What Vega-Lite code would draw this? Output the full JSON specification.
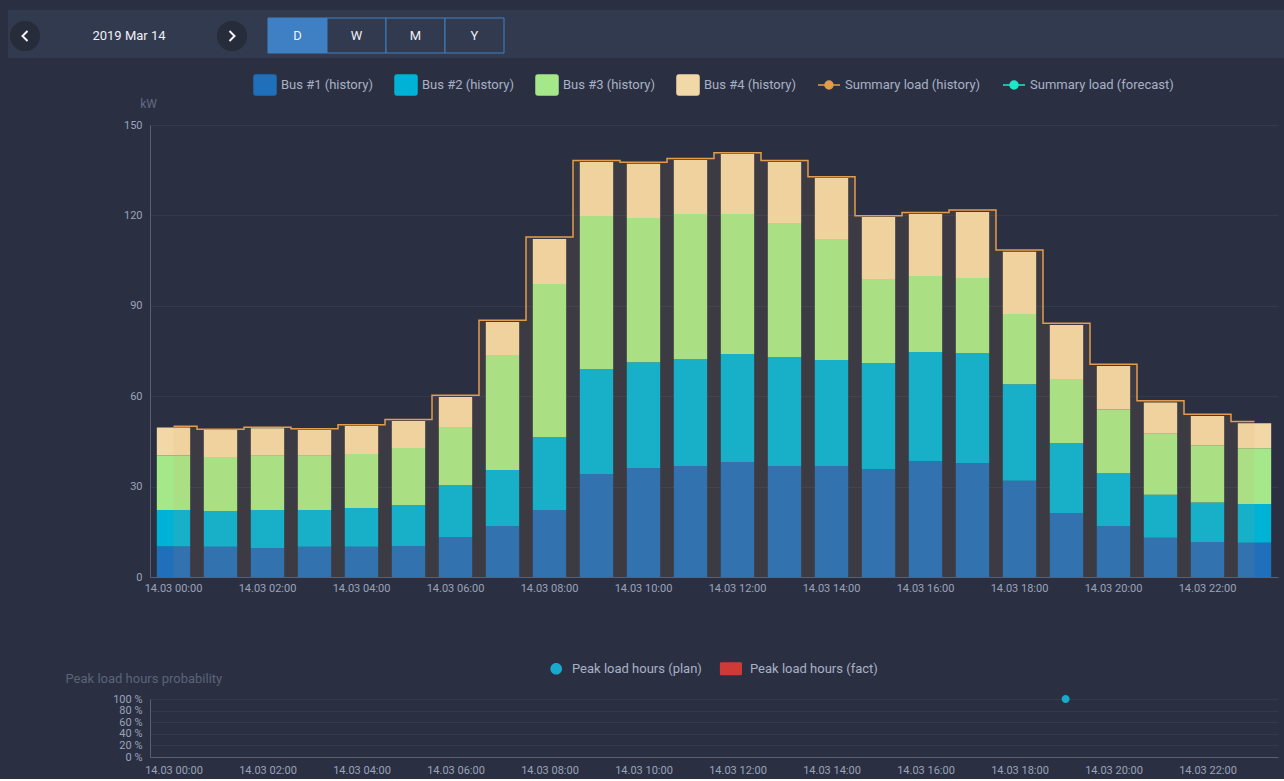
{
  "$schema": "https://vega.github.io/schema/vega-lite/v6.json",
  "padding": {"left": 8, "top": 10, "right": 0, "bottom": 4},
  "background": "#2a3042",
  "spacing": 16,
  "resolve": {"scale": {"color": "independent", "shape": "independent", "x": "independent", "y": "independent"}, "legend": {"color": "independent", "shape": "independent"}},
  "datasets": {
    "bus": [
      {"t":"14.03 00:00","series":"Bus #1 (history)","kw":10.1},{"t":"14.03 00:00","series":"Bus #2 (history)","kw":12.1},{"t":"14.03 00:00","series":"Bus #3 (history)","kw":18.1},{"t":"14.03 00:00","series":"Bus #4 (history)","kw":9.3},
      {"t":"14.03 01:00","series":"Bus #1 (history)","kw":10.0},{"t":"14.03 01:00","series":"Bus #2 (history)","kw":11.9},{"t":"14.03 01:00","series":"Bus #3 (history)","kw":17.9},{"t":"14.03 01:00","series":"Bus #4 (history)","kw":9.0},
      {"t":"14.03 02:00","series":"Bus #1 (history)","kw":9.6},{"t":"14.03 02:00","series":"Bus #2 (history)","kw":12.6},{"t":"14.03 02:00","series":"Bus #3 (history)","kw":18.0},{"t":"14.03 02:00","series":"Bus #4 (history)","kw":9.2},
      {"t":"14.03 03:00","series":"Bus #1 (history)","kw":10.0},{"t":"14.03 03:00","series":"Bus #2 (history)","kw":12.2},{"t":"14.03 03:00","series":"Bus #3 (history)","kw":18.0},{"t":"14.03 03:00","series":"Bus #4 (history)","kw":8.6},
      {"t":"14.03 04:00","series":"Bus #1 (history)","kw":10.0},{"t":"14.03 04:00","series":"Bus #2 (history)","kw":12.9},{"t":"14.03 04:00","series":"Bus #3 (history)","kw":17.9},{"t":"14.03 04:00","series":"Bus #4 (history)","kw":9.3},
      {"t":"14.03 05:00","series":"Bus #1 (history)","kw":10.3},{"t":"14.03 05:00","series":"Bus #2 (history)","kw":13.6},{"t":"14.03 05:00","series":"Bus #3 (history)","kw":18.9},{"t":"14.03 05:00","series":"Bus #4 (history)","kw":9.0},
      {"t":"14.03 06:00","series":"Bus #1 (history)","kw":13.3},{"t":"14.03 06:00","series":"Bus #2 (history)","kw":17.2},{"t":"14.03 06:00","series":"Bus #3 (history)","kw":19.3},{"t":"14.03 06:00","series":"Bus #4 (history)","kw":9.9},
      {"t":"14.03 07:00","series":"Bus #1 (history)","kw":16.9},{"t":"14.03 07:00","series":"Bus #2 (history)","kw":18.6},{"t":"14.03 07:00","series":"Bus #3 (history)","kw":38.2},{"t":"14.03 07:00","series":"Bus #4 (history)","kw":10.9},
      {"t":"14.03 08:00","series":"Bus #1 (history)","kw":22.2},{"t":"14.03 08:00","series":"Bus #2 (history)","kw":24.3},{"t":"14.03 08:00","series":"Bus #3 (history)","kw":50.7},{"t":"14.03 08:00","series":"Bus #4 (history)","kw":15.0},
      {"t":"14.03 09:00","series":"Bus #1 (history)","kw":34.2},{"t":"14.03 09:00","series":"Bus #2 (history)","kw":34.8},{"t":"14.03 09:00","series":"Bus #3 (history)","kw":50.8},{"t":"14.03 09:00","series":"Bus #4 (history)","kw":17.9},
      {"t":"14.03 10:00","series":"Bus #1 (history)","kw":36.2},{"t":"14.03 10:00","series":"Bus #2 (history)","kw":35.1},{"t":"14.03 10:00","series":"Bus #3 (history)","kw":47.8},{"t":"14.03 10:00","series":"Bus #4 (history)","kw":18.0},
      {"t":"14.03 11:00","series":"Bus #1 (history)","kw":36.8},{"t":"14.03 11:00","series":"Bus #2 (history)","kw":35.5},{"t":"14.03 11:00","series":"Bus #3 (history)","kw":48.2},{"t":"14.03 11:00","series":"Bus #4 (history)","kw":17.9},
      {"t":"14.03 12:00","series":"Bus #1 (history)","kw":38.2},{"t":"14.03 12:00","series":"Bus #2 (history)","kw":35.8},{"t":"14.03 12:00","series":"Bus #3 (history)","kw":46.5},{"t":"14.03 12:00","series":"Bus #4 (history)","kw":19.9},
      {"t":"14.03 13:00","series":"Bus #1 (history)","kw":36.8},{"t":"14.03 13:00","series":"Bus #2 (history)","kw":36.2},{"t":"14.03 13:00","series":"Bus #3 (history)","kw":44.5},{"t":"14.03 13:00","series":"Bus #4 (history)","kw":20.2},
      {"t":"14.03 14:00","series":"Bus #1 (history)","kw":36.8},{"t":"14.03 14:00","series":"Bus #2 (history)","kw":35.2},{"t":"14.03 14:00","series":"Bus #3 (history)","kw":40.2},{"t":"14.03 14:00","series":"Bus #4 (history)","kw":20.2},
      {"t":"14.03 15:00","series":"Bus #1 (history)","kw":35.8},{"t":"14.03 15:00","series":"Bus #2 (history)","kw":35.2},{"t":"14.03 15:00","series":"Bus #3 (history)","kw":27.9},{"t":"14.03 15:00","series":"Bus #4 (history)","kw":20.6},
      {"t":"14.03 16:00","series":"Bus #1 (history)","kw":38.5},{"t":"14.03 16:00","series":"Bus #2 (history)","kw":36.2},{"t":"14.03 16:00","series":"Bus #3 (history)","kw":25.2},{"t":"14.03 16:00","series":"Bus #4 (history)","kw":20.6},
      {"t":"14.03 17:00","series":"Bus #1 (history)","kw":37.8},{"t":"14.03 17:00","series":"Bus #2 (history)","kw":36.5},{"t":"14.03 17:00","series":"Bus #3 (history)","kw":24.9},{"t":"14.03 17:00","series":"Bus #4 (history)","kw":21.9},
      {"t":"14.03 18:00","series":"Bus #1 (history)","kw":31.9},{"t":"14.03 18:00","series":"Bus #2 (history)","kw":32.1},{"t":"14.03 18:00","series":"Bus #3 (history)","kw":23.3},{"t":"14.03 18:00","series":"Bus #4 (history)","kw":20.6},
      {"t":"14.03 19:00","series":"Bus #1 (history)","kw":21.2},{"t":"14.03 19:00","series":"Bus #2 (history)","kw":23.3},{"t":"14.03 19:00","series":"Bus #3 (history)","kw":21.2},{"t":"14.03 19:00","series":"Bus #4 (history)","kw":17.9},
      {"t":"14.03 20:00","series":"Bus #1 (history)","kw":16.9},{"t":"14.03 20:00","series":"Bus #2 (history)","kw":17.5},{"t":"14.03 20:00","series":"Bus #3 (history)","kw":21.2},{"t":"14.03 20:00","series":"Bus #4 (history)","kw":14.4},
      {"t":"14.03 21:00","series":"Bus #1 (history)","kw":13.0},{"t":"14.03 21:00","series":"Bus #2 (history)","kw":14.3},{"t":"14.03 21:00","series":"Bus #3 (history)","kw":20.2},{"t":"14.03 21:00","series":"Bus #4 (history)","kw":10.4},
      {"t":"14.03 22:00","series":"Bus #1 (history)","kw":11.6},{"t":"14.03 22:00","series":"Bus #2 (history)","kw":13.1},{"t":"14.03 22:00","series":"Bus #3 (history)","kw":19.0},{"t":"14.03 22:00","series":"Bus #4 (history)","kw":9.7},
      {"t":"14.03 23:00","series":"Bus #1 (history)","kw":11.4},{"t":"14.03 23:00","series":"Bus #2 (history)","kw":12.8},{"t":"14.03 23:00","series":"Bus #3 (history)","kw":18.5},{"t":"14.03 23:00","series":"Bus #4 (history)","kw":8.3}
    ],
    "total": [
      {"t":"14.03 00:00","series":"Summary load (history)","kw":50.0},
      {"t":"14.03 01:00","series":"Summary load (history)","kw":49.0},
      {"t":"14.03 02:00","series":"Summary load (history)","kw":49.7},
      {"t":"14.03 03:00","series":"Summary load (history)","kw":49.2},
      {"t":"14.03 04:00","series":"Summary load (history)","kw":50.5},
      {"t":"14.03 05:00","series":"Summary load (history)","kw":52.3},
      {"t":"14.03 06:00","series":"Summary load (history)","kw":60.3},
      {"t":"14.03 07:00","series":"Summary load (history)","kw":85.2},
      {"t":"14.03 08:00","series":"Summary load (history)","kw":112.8},
      {"t":"14.03 09:00","series":"Summary load (history)","kw":138.2},
      {"t":"14.03 10:00","series":"Summary load (history)","kw":137.6},
      {"t":"14.03 11:00","series":"Summary load (history)","kw":138.9},
      {"t":"14.03 12:00","series":"Summary load (history)","kw":140.8},
      {"t":"14.03 13:00","series":"Summary load (history)","kw":138.2},
      {"t":"14.03 14:00","series":"Summary load (history)","kw":132.8},
      {"t":"14.03 15:00","series":"Summary load (history)","kw":119.9},
      {"t":"14.03 16:00","series":"Summary load (history)","kw":121.0},
      {"t":"14.03 17:00","series":"Summary load (history)","kw":121.8},
      {"t":"14.03 18:00","series":"Summary load (history)","kw":108.5},
      {"t":"14.03 19:00","series":"Summary load (history)","kw":84.2},
      {"t":"14.03 20:00","series":"Summary load (history)","kw":70.6},
      {"t":"14.03 21:00","series":"Summary load (history)","kw":58.5},
      {"t":"14.03 22:00","series":"Summary load (history)","kw":54.0},
      {"t":"14.03 23:00","series":"Summary load (history)","kw":51.6}
    ],
    "peak": [
      {"t":"14.03 19:00","series":"Peak load hours (plan)","p":1.0}
    ],
    "header": [
      {"date":"2019 Mar 14"}
    ],
    "buttons": [
      {"btn":"D","active":true},{"btn":"W","active":false},{"btn":"M","active":false},{"btn":"Y","active":false}
    ]
  },
  "vconcat": [
    {
      "width": 1128,
      "height": 48,
      "resolve": {"scale": {"x": "independent"}},
      "layer": [
        {
          "data": {"name": "header"},
          "layer": [
            {
              "mark": {"type": "rect", "color": "#323a4f"},
              "encoding": {
                "x": {"datum": -142, "type": "quantitative", "scale": {"domain": [0, 1128], "nice": false, "zero": false}, "axis": null},
                "x2": {"datum": 1134},
                "y": {"datum": 0, "type": "quantitative", "scale": {"domain": [0, 48], "reverse": true, "nice": false, "zero": false}, "axis": null},
                "y2": {"datum": 48}
              }
            },
            {
              "mark": {"type": "point", "filled": true, "color": "#272c3b", "opacity": 1, "size": 908},
              "encoding": {
                "x": {"datum": -125, "type": "quantitative", "scale": {"domain": [0, 1128], "nice": false, "zero": false}, "axis": null},
                "y": {"datum": 26, "type": "quantitative", "scale": {"domain": [0, 48], "reverse": true, "nice": false, "zero": false}, "axis": null}
              }
            },
            {
              "mark": {"type": "point", "filled": false, "stroke": "#f2f4f8", "strokeWidth": 2, "opacity": 1, "size": 400, "shape": "M0.25,-0.5L-0.25,0L0.25,0.5"},
              "encoding": {
                "x": {"datum": -125, "type": "quantitative", "scale": {"domain": [0, 1128], "nice": false, "zero": false}, "axis": null},
                "y": {"datum": 26, "type": "quantitative", "scale": {"domain": [0, 48], "reverse": true, "nice": false, "zero": false}, "axis": null}
              }
            },
            {
              "mark": {"type": "text", "color": "#eef0f5", "fontSize": 13, "font": "Roboto", "baseline": "middle", "align": "center"},
              "encoding": {
                "x": {"datum": -21, "type": "quantitative", "scale": {"domain": [0, 1128], "nice": false, "zero": false}, "axis": null},
                "y": {"datum": 26, "type": "quantitative", "scale": {"domain": [0, 48], "reverse": true, "nice": false, "zero": false}, "axis": null},
                "text": {"field": "date"}
              }
            },
            {
              "mark": {"type": "point", "filled": true, "color": "#272c3b", "opacity": 1, "size": 908},
              "encoding": {
                "x": {"datum": 82, "type": "quantitative", "scale": {"domain": [0, 1128], "nice": false, "zero": false}, "axis": null},
                "y": {"datum": 26, "type": "quantitative", "scale": {"domain": [0, 48], "reverse": true, "nice": false, "zero": false}, "axis": null}
              }
            },
            {
              "mark": {"type": "point", "filled": false, "stroke": "#f2f4f8", "strokeWidth": 2, "opacity": 1, "size": 400, "shape": "M-0.25,-0.5L0.25,0L-0.25,0.5"},
              "encoding": {
                "x": {"datum": 82, "type": "quantitative", "scale": {"domain": [0, 1128], "nice": false, "zero": false}, "axis": null},
                "y": {"datum": 26, "type": "quantitative", "scale": {"domain": [0, 48], "reverse": true, "nice": false, "zero": false}, "axis": null}
              }
            }
          ]
        },
        {
          "data": {"name": "buttons"},
          "layer": [
            {
              "mark": {"type": "rect", "stroke": "#3f80c4", "strokeWidth": 1},
              "encoding": {
                "x": {"field": "btn", "type": "nominal", "sort": null, "scale": {"type": "band", "domain": ["D", "W", "M", "Y"], "range": [118, 354], "paddingInner": 0, "paddingOuter": 0}, "axis": null},
                "y": {"datum": 8, "type": "quantitative", "scale": {"domain": [0, 48], "reverse": true, "nice": false, "zero": false}, "axis": null},
                "y2": {"datum": 43},
                "color": {"condition": {"test": "datum.active", "value": "#3f80c4"}, "value": "#323a4f"}
              }
            },
            {
              "mark": {"type": "text", "color": "#eef0f5", "fontSize": 13, "font": "Roboto", "baseline": "middle", "align": "center"},
              "encoding": {
                "x": {"field": "btn", "type": "nominal", "sort": null, "axis": null},
                "y": {"datum": 26, "type": "quantitative", "axis": null},
                "text": {"field": "btn"}
              }
            }
          ]
        }
      ]
    },
    {
      "width": 1128,
      "height": 452,
      "layer": [
        {
          "data": {"name": "bus"},
          "mark": {"type": "bar"},
          "encoding": {
            "x": {
              "field": "t", "type": "ordinal",
              "scale": {"paddingInner": 0.29, "paddingOuter": 0.145},
              "axis": {
                "values": ["14.03 00:00","14.03 02:00","14.03 04:00","14.03 06:00","14.03 08:00","14.03 10:00","14.03 12:00","14.03 14:00","14.03 16:00","14.03 18:00","14.03 20:00","14.03 22:00"],
                "labelAngle": 0, "labelPadding": 5, "title": "\u00a0", "titlePadding": 42, "titleFontSize": 10, "grid": false
              }
            },
            "y": {
              "field": "kw", "type": "quantitative", "stack": "zero",
              "scale": {"domain": [0, 150], "nice": false},
              "axis": {
                "values": [0, 30, 60, 90, 120, 150], "labelPadding": 8, "labelOverlap": false, "grid": true,
                "title": "kW", "titleAngle": 0, "titleAlign": "center", "titleBaseline": "bottom", "titleX": -2, "titleY": -15,
                "titleColor": "#636b82", "titleFontSize": 12
              }
            },
            "color": {
              "field": "series", "type": "nominal",
              "scale": {
                "domain": ["Bus #1 (history)", "Bus #2 (history)", "Bus #3 (history)", "Bus #4 (history)", "Summary load (history)", "Summary load (forecast)"],
                "range": ["#1f6fba", "#00b3d6", "#a4e889", "#f2d8a7", "#e39c4c", "#1de9c6"]
              },
              "legend": {
                "orient": "top", "direction": "horizontal", "title": null,
                "symbolSize": 400, "labelFontSize": 13, "labelColor": "#a9b0c5", "labelOffset": 5, "columnPadding": 19, "offset": 27,
                "encode": {
                  "symbols": {
                    "update": {
                      "shape": {"signal": "indexof(datum.value, 'Summary') === 0 ? 'M0,-1L0,-1M0,1L0,1M-1.1,0H-0.4M0.4,0H1.1M-0.4,0A0.4,0.4 0 1,0 0.4,0A0.4,0.4 0 1,0 -0.4,0Z' : 'M-1.1,-0.8Q-1.1,-1 -0.9,-1H0.9Q1.1,-1 1.1,-0.8V0.8Q1.1,1 0.9,1H-0.9Q-1.1,1 -1.1,0.8Z'"},
                      "fill": {"signal": "datum.value === 'Bus #1 (history)' ? '#1f6fba' : datum.value === 'Bus #2 (history)' ? '#00b3d6' : datum.value === 'Bus #3 (history)' ? '#a4e889' : datum.value === 'Bus #4 (history)' ? '#f2d8a7' : datum.value === 'Summary load (history)' ? '#e39c4c' : '#1de9c6'"},
                      "stroke": {"signal": "datum.value === 'Bus #1 (history)' ? '#1f6fba' : datum.value === 'Bus #2 (history)' ? '#00b3d6' : datum.value === 'Bus #3 (history)' ? '#a4e889' : datum.value === 'Bus #4 (history)' ? '#f2d8a7' : datum.value === 'Summary load (history)' ? '#e39c4c' : '#1de9c6'"},
                      "strokeWidth": {"value": 1.5},
                      "opacity": {"value": 1},
                      "fillOpacity": {"value": 1},
                      "strokeOpacity": {"value": 1}
                    }
                  }
                }
              }
            },
            "order": {"field": "series", "type": "ordinal", "sort": "ascending"}
          }
        },
        {
          "data": {"name": "total"},
          "mark": {"type": "area", "interpolate": "step", "color": "#e0a050", "opacity": 0.1},
          "encoding": {
            "x": {"field": "t", "type": "ordinal"},
            "y": {"field": "kw", "type": "quantitative"}
          }
        },
        {
          "data": {"name": "total"},
          "mark": {"type": "line", "interpolate": "step", "strokeWidth": 1.5},
          "encoding": {
            "x": {"field": "t", "type": "ordinal"},
            "y": {"field": "kw", "type": "quantitative"},
            "color": {"field": "series", "type": "nominal"}
          }
        }
      ]
    },
    {
      "width": 1128,
      "height": 58,
      "data": {"name": "peak"},
      "mark": {"type": "point", "filled": true, "size": 80, "opacity": 1},
      "encoding": {
        "x": {
          "field": "t", "type": "ordinal",
          "scale": {
            "domain": ["14.03 00:00","14.03 01:00","14.03 02:00","14.03 03:00","14.03 04:00","14.03 05:00","14.03 06:00","14.03 07:00","14.03 08:00","14.03 09:00","14.03 10:00","14.03 11:00","14.03 12:00","14.03 13:00","14.03 14:00","14.03 15:00","14.03 16:00","14.03 17:00","14.03 18:00","14.03 19:00","14.03 20:00","14.03 21:00","14.03 22:00","14.03 23:00"],
            "paddingInner": 0.29, "paddingOuter": 0.145
          },
          "axis": {
            "values": ["14.03 00:00","14.03 02:00","14.03 04:00","14.03 06:00","14.03 08:00","14.03 10:00","14.03 12:00","14.03 14:00","14.03 16:00","14.03 18:00","14.03 20:00","14.03 22:00"],
            "labelAngle": 0, "labelPadding": 7, "title": null, "grid": false
          }
        },
        "y": {
          "field": "p", "type": "quantitative",
          "scale": {"domain": [0, 1], "nice": false},
          "axis": {
            "values": [0, 0.2, 0.4, 0.6, 0.8, 1], "labelExpr": "format(datum.value * 100, 'd') + ' %'",
            "labelFontSize": 11, "labelPadding": 8, "labelOverlap": false, "grid": true,
            "title": "Peak load hours probability", "titleAngle": 0, "titleAlign": "left", "titleBaseline": "bottom",
            "titleX": -85, "titleY": -14, "titleColor": "#5b6378", "titleFontSize": 13
          }
        },
        "color": {
          "field": "series", "type": "nominal",
          "scale": {"domain": ["Peak load hours (plan)", "Peak load hours (fact)"], "range": ["#1aa8cc", "#cf3a37"]},
          "legend": {
            "orient": "top", "direction": "horizontal", "title": null,
            "symbolSize": 169, "labelFontSize": 13, "labelColor": "#a9b0c5", "labelOffset": 7, "columnPadding": 17, "offset": 23
          }
        },
        "shape": {
          "field": "series", "type": "nominal",
          "scale": {"domain": ["Peak load hours (plan)", "Peak load hours (fact)"], "range": ["M-1.1,0A0.9,0.9 0 1,0 0.7,0A0.9,0.9 0 1,0 -1.1,0Z", "M-2.4,-0.8Q-2.4,-1 -2.2,-1H0.8Q1,-1 1,-0.8V0.8Q1,1 0.8,1H-2.2Q-2.4,1 -2.4,0.8Z"]},
          "legend": {
            "orient": "top", "direction": "horizontal", "title": null,
            "symbolSize": 169, "labelFontSize": 13, "labelColor": "#a9b0c5", "labelOffset": 7, "columnPadding": 17, "offset": 23
          }
        }
      }
    }
  ],
  "config": {
    "font": "Roboto",
    "view": {"stroke": null},
    "axis": {
      "labelColor": "#9ba3b9", "labelFont": "Roboto", "labelFontSize": 11,
      "domainColor": "#596076", "gridColor": "#323a4c", "ticks": false,
      "titleFont": "Roboto", "titleFontWeight": "normal", "titleColor": "#636b82"
    },
    "legend": {
      "labelFont": "Roboto",
      "layout": {"top": {"anchor": "middle"}}
    }
  }
}
